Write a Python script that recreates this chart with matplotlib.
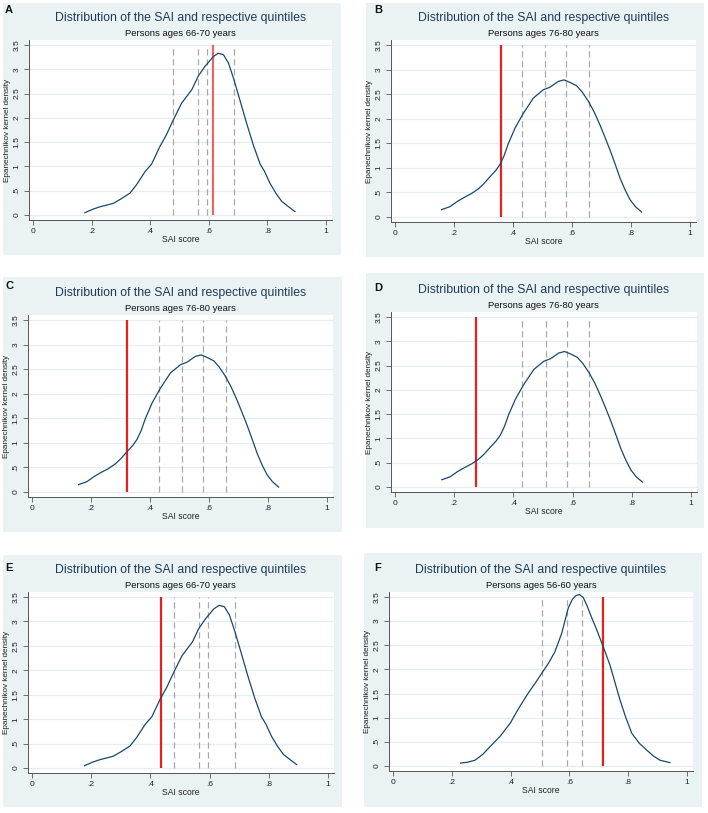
import matplotlib
matplotlib.use("Agg")
import matplotlib.pyplot as plt
from matplotlib.patches import Rectangle

# ---------------- data ----------------
# kernel density curve, persons ages 66-70
dens_6670_x = [0.177, 0.205, 0.229, 0.255, 0.274, 0.300, 0.331, 0.353, 0.382, 0.405, 0.433,
               0.456, 0.479, 0.507, 0.542, 0.564, 0.587, 0.615, 0.632, 0.650, 0.667, 0.684,
               0.706, 0.729, 0.752, 0.775, 0.790, 0.809, 0.830, 0.849, 0.870, 0.894]
dens_6670_y = [0.048, 0.12, 0.17, 0.21, 0.24, 0.33, 0.45, 0.62, 0.89, 1.05, 1.41,
               1.66, 1.96, 2.30, 2.58, 2.86, 3.06, 3.26, 3.33, 3.30, 3.13, 2.82,
               2.37, 1.89, 1.44, 1.05, 0.90, 0.65, 0.44, 0.28, 0.18, 0.07]

# kernel density curve, persons ages 76-80
dens_7680_x = [0.158, 0.186, 0.212, 0.232, 0.260, 0.282, 0.300, 0.322, 0.342, 0.356, 0.370,
               0.384, 0.407, 0.435, 0.469, 0.503, 0.525, 0.554, 0.573, 0.593, 0.616, 0.635,
               0.655, 0.675, 0.695, 0.712, 0.729, 0.746, 0.763, 0.780, 0.797, 0.815, 0.836]
dens_7680_y = [0.15, 0.21, 0.32, 0.39, 0.48, 0.57, 0.67, 0.82, 0.95, 1.07, 1.25,
               1.49, 1.81, 2.11, 2.42, 2.59, 2.64, 2.76, 2.79, 2.74, 2.67, 2.54,
               2.36, 2.14, 1.87, 1.62, 1.36, 1.08, 0.79, 0.55, 0.35, 0.21, 0.10]

# kernel density curve, persons ages 56-60
dens_5660_x = [0.230, 0.255, 0.279, 0.305, 0.330, 0.365, 0.398, 0.430, 0.460, 0.483, 0.506,
               0.530, 0.551, 0.574, 0.596, 0.610, 0.622, 0.634, 0.647, 0.660, 0.670, 0.693,
               0.715, 0.738, 0.755, 0.772, 0.792, 0.812, 0.838, 0.863, 0.885, 0.908, 0.942]
dens_5660_y = [0.06, 0.08, 0.12, 0.24, 0.40, 0.62, 0.88, 1.22, 1.51, 1.71, 1.92,
               2.14, 2.37, 2.75, 3.27, 3.45, 3.53, 3.55, 3.49, 3.32, 3.16, 2.82,
               2.47, 2.09, 1.73, 1.37, 1.00, 0.68, 0.47, 0.33, 0.21, 0.12, 0.07]

# quintile cut points per age group
quint_6670 = [0.479, 0.563, 0.594, 0.685]
quint_7680 = [0.430, 0.509, 0.581, 0.657]
quint_5660 = [0.506, 0.592, 0.643, 0.710]

# panels: letter, subtitle, age group, individual SAI score (red line)
panel_letters = ["A", "B", "C", "D", "E", "F"]
panel_subtitles = ["Persons ages 66-70 years", "Persons ages 76-80 years",
                   "Persons ages 76-80 years", "Persons ages 76-80 years",
                   "Persons ages 66-70 years", "Persons ages 56-60 years"]
panel_groups = ["6670", "7680", "7680", "7680", "6670", "5660"]
person_score = [0.613, 0.359, 0.322, 0.2725, 0.436, 0.714]

x_ticks = [0, 0.2, 0.4, 0.6, 0.8, 1.0]
x_ticklabels = ["0", ".2", ".4", ".6", ".8", "1"]
y_ticks = [0, 0.5, 1, 1.5, 2, 2.5, 3, 3.5]
y_ticklabels = ["0", ".5", "1", "1.5", "2", "2.5", "3", "3.5"]

title_text = "Distribution of the SAI and respective quintiles"
xlabel_text = "SAI score"
ylabel_text = "Epanechnikov kernel density"

groups = {
    "6670": (dens_6670_x, dens_6670_y, quint_6670),
    "7680": (dens_7680_x, dens_7680_y, quint_7680),
    "5660": (dens_5660_x, dens_5660_y, quint_5660),
}

# ---------------- layout (pixels) ----------------
W, H = 708, 813
bg_boxes = [(3, 341, 3, 255), (366, 704, 3, 257),
            (3, 342, 277, 532), (366, 704, 273, 528),
            (3, 342, 555, 807), (364, 702, 553, 807)]
calib = [(33, 326, 215, 45), (395, 690, 217, 45),
         (32, 327, 492, 320), (395, 691, 487, 317),
         (32, 328, 768, 597), (393, 687, 766, 597)]
letter_pos = [(5, 5), (374, 5), (5, 281), (374, 283), (5, 563), (374, 563)]

XL = (-0.0137, 1.02)
YL = (-0.10, 3.60)

BG = "#EAF2F3"
NAVY = "#1A476F"
TITLE_COL = "#1E3B5A"

plt.rcParams['font.family'] = ['Liberation Sans', 'DejaVu Sans']

fig = plt.figure(figsize=(W / 100, H / 100), dpi=100)
fig.patch.set_facecolor("white")

for i in range(6):
    bx0, bx1, by0, by1 = bg_boxes[i]
    fig.patches.append(Rectangle((bx0 / W, 1 - by1 / H), (bx1 - bx0) / W, (by1 - by0) / H,
                                 transform=fig.transFigure, facecolor=BG,
                                 edgecolor="none", zorder=-5))
    px0, px1, py0, py35 = calib[i]
    sx = px1 - px0
    sy = (py0 - py35) / 3.5
    left = px0 + XL[0] * sx
    right = px0 + XL[1] * sx
    bottom = py0 - YL[0] * sy
    top = py0 - YL[1] * sy
    aw = right - left
    ah = bottom - top
    ax = fig.add_axes([left / W, 1 - bottom / H, aw / W, ah / H], zorder=2)
    ax.set_facecolor("white")
    ax.set_xlim(*XL)
    ax.set_ylim(*YL)

    gx, gy, quint = groups[panel_groups[i]]
    for yt in y_ticks:
        ax.axhline(yt, color="#E6EEF0", lw=0.9, zorder=1)
    ax.vlines(quint, 0, 3.5, colors="#A8A8A8", linestyles=(0, (5, 3)), lw=0.9, zorder=2)
    red = "#E06A6A" if i == 0 else "#E8201E"
    ax.vlines([person_score[i]], 0, 3.5, colors=red, lw=1.6, zorder=3)
    ax.plot(gx, gy, color=NAVY, lw=0.9, zorder=4, solid_joinstyle="round")

    for s in ["top", "right"]:
        ax.spines[s].set_visible(False)
    for s in ["left", "bottom"]:
        ax.spines[s].set_color("#555555")
        ax.spines[s].set_linewidth(0.7)
    ax.set_xticks(x_ticks)
    ax.set_xticklabels(x_ticklabels)
    ax.set_yticks(y_ticks)
    ax.set_yticklabels(y_ticklabels, rotation=90, va="center")
    ax.tick_params(axis="both", direction="out", length=3.5, width=0.6, color="#555555",
                   labelsize=6.0, labelcolor="#222222", pad=2.5)
    ax.set_xlabel(xlabel_text, fontsize=6.2, color="#222222")
    ax.xaxis.set_label_coords(0.5, -20 / ah)
    ax.xaxis.label.set_va("center")
    ax.set_ylabel(ylabel_text, fontsize=5.9, color="#222222")
    ax.yaxis.set_label_coords(-21 / aw, 0.5)
    ax.yaxis.label.set_va("center")

    cx = (left + right) / 2
    fig.text(cx / W, 1 - (top - 22) / H, title_text, ha="center", va="center",
             fontsize=8.8, color=TITLE_COL)
    fig.text(cx / W, 1 - (top - 7) / H, panel_subtitles[i], ha="center", va="center",
             fontsize=6.8, color="#111111")
    lx, ly = letter_pos[i]
    fig.text(lx / W, 1 - ly / H, panel_letters[i], ha="left", va="top",
             fontsize=8, fontweight="bold", color="#111111")

fig.savefig("out.png", dpi=100)
